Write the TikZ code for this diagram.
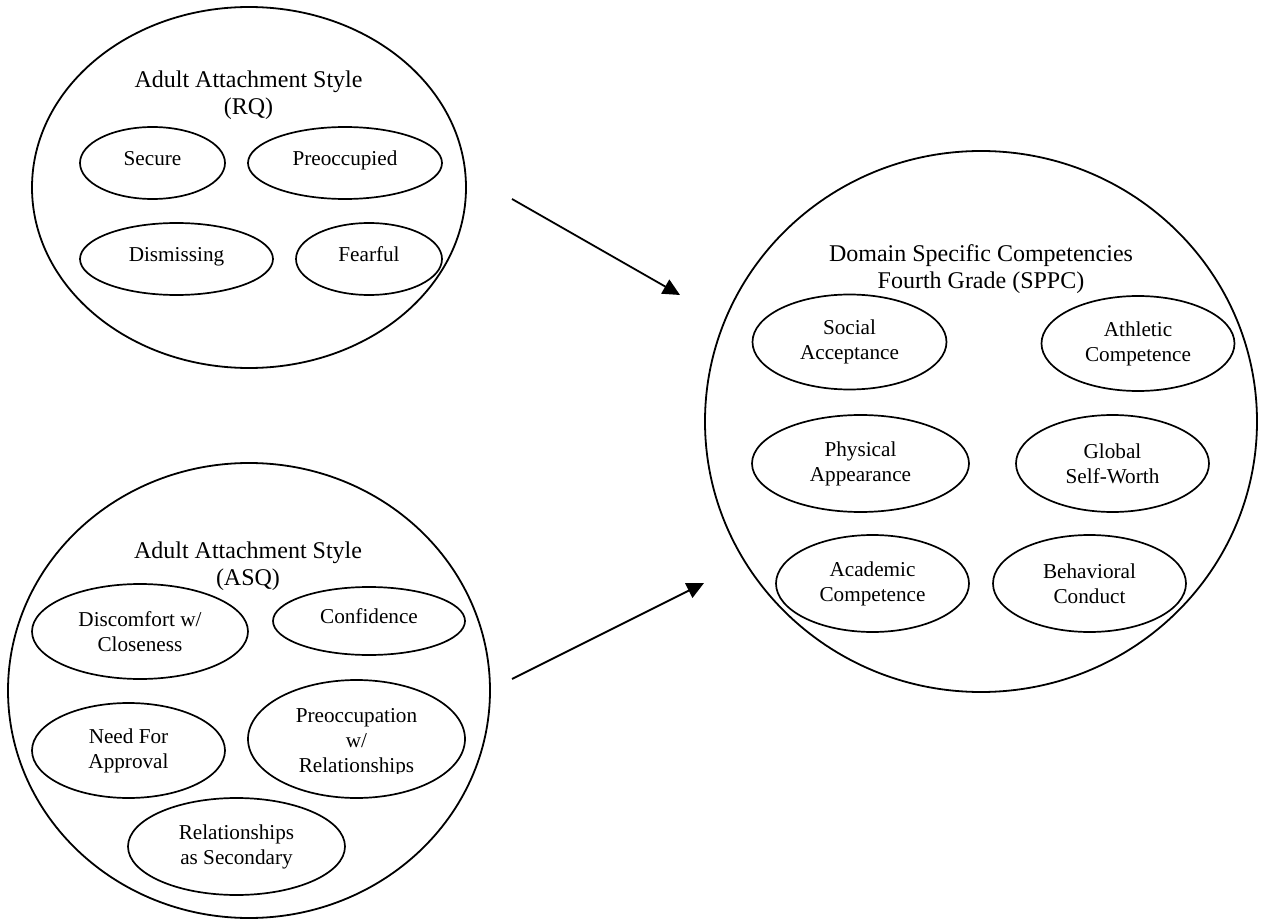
\documentclass[tikz,border=0pt]{standalone}
\usepackage{fontspec}
\setmainfont{Liberation Serif}
\usetikzlibrary{shapes.geometric,arrows.meta}
\begin{document}
\begin{tikzpicture}[x=1pt,y=-1pt,
  every node/.style={inner sep=0pt},
  outer/.style={draw, ellipse, line width=1.8pt},
  item/.style={draw, ellipse, line width=1.7pt, align=center, font=\fontsize{21.2}{25}\selectfont},
  oneline/.style={text height=15pt, text depth=10pt},
  itemtext/.style={align=center, font=\fontsize{21.2}{25}\selectfont},
  title/.style={align=center, font=\fontsize{24}{27}\selectfont},
  link/.style={line width=1.8pt, -{Triangle[length=17pt,width=16pt]}}
]
\useasboundingbox (0,0) rectangle (1262,920);

% ---- Top-left: RQ ----
\node[outer, minimum width=434pt, minimum height=361pt] (rq) at (249,187.5) {};
\node[title] (rqtitle) at (248.5,95) {Adult Attachment Style\\(RQ)};
\node[item, oneline, minimum width=145pt, minimum height=72pt] (secure) at (152.5,163) {Secure};
\node[item, oneline, minimum width=194pt, minimum height=72pt] (preocc) at (345,163) {Preoccupied};
\node[item, oneline, minimum width=193pt, minimum height=72pt] (dismiss) at (176.5,259) {Dismissing};
\node[item, oneline, minimum width=146pt, minimum height=72pt] (fearful) at (369,259) {Fearful};

% ---- Bottom-left: ASQ ----
\node[outer, minimum width=482pt, minimum height=455pt] (asq) at (249,690.5) {};
\node[title] (asqtitle) at (248,566.5) {Adult Attachment Style\\(ASQ)};
\node[item, minimum width=216pt, minimum height=95pt] (discomfort) at (140,631.5) {Discomfort w/\\Closeness};
\node[item, oneline, minimum width=192pt, minimum height=68pt] (confidence) at (369,621) {Confidence};
\node[item, minimum width=193pt, minimum height=95pt] (approval) at (128.5,750.5) {Need For\\Approval};
\node[item, minimum width=217pt, minimum height=118pt] (preocw) at (356.5,739) {};
\begin{scope}
  \clip (240,685) rectangle (470,773.5);
  \node[itemtext] (preoctext) at (356.5,743) {Preoccupation\\w/\\Relationships};
\end{scope}
\node[item, minimum width=217pt, minimum height=97pt] (secondary) at (236.5,846.5) {Relationships\\as Secondary};

% ---- Right: SPPC ----
\node[outer, minimum width=552pt, minimum height=541pt] (sppc) at (981,421.5) {};
\node[title] (sppctitle) at (981,269) {Domain Specific Competencies\\Fourth Grade (SPPC)};
\node[item, minimum width=194pt, minimum height=95pt] (social) at (849.5,342) {Social\\Acceptance};
\node[item, minimum width=193pt, minimum height=95pt] (athletic) at (1138,343.5) {Athletic\\Competence};
\node[item, minimum width=217pt, minimum height=97pt] (physical) at (860.5,463.5) {Physical\\Appearance};
\node[item, minimum width=193pt, minimum height=97pt] (global) at (1112.5,463.5) {Global\\Self-Worth};
\node[item, minimum width=193pt, minimum height=97pt] (academic) at (872.5,583.5) {Academic\\Competence};
\node[item, minimum width=193pt, minimum height=97pt] (behav) at (1089.5,583.5) {Behavioral\\Conduct};

% ---- Arrows ----
\coordinate (a1s) at (512,199);
\coordinate (a1e) at (680,295);
\coordinate (a2s) at (512,679);
\coordinate (a2e) at (704,583);
\draw[link] (a1s) -- (a1e);
\draw[link] (a2s) -- (a2e);
\end{tikzpicture}
\end{document}
